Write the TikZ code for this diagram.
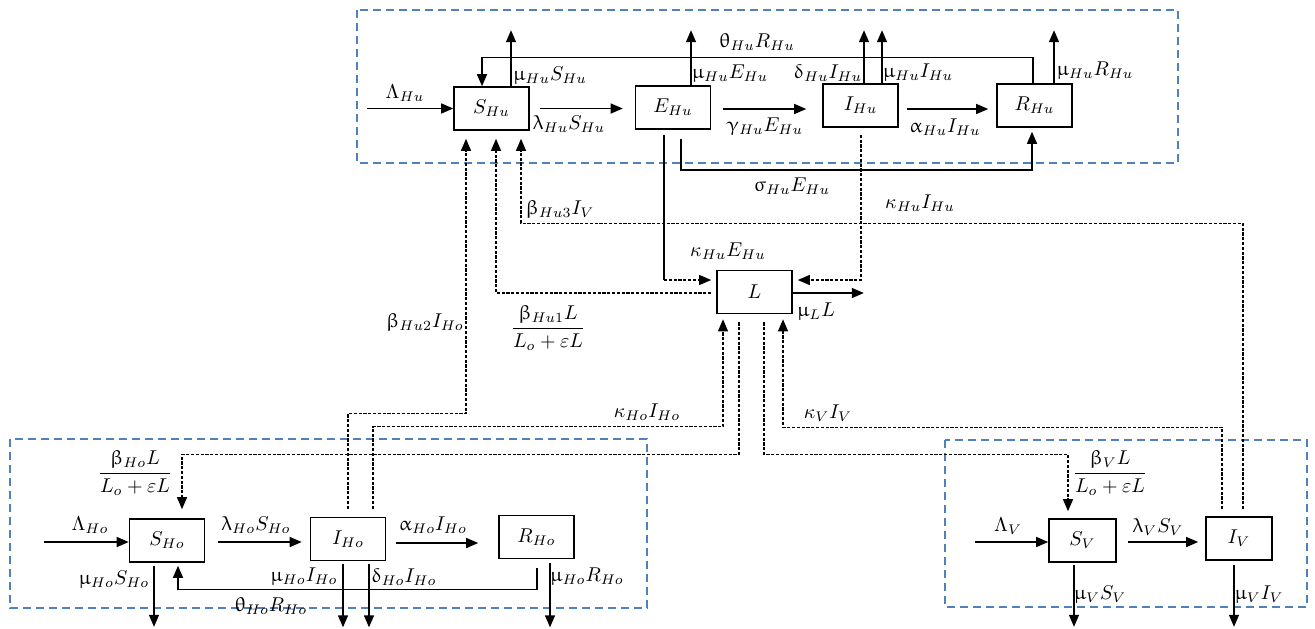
\documentclass[tikz,border=0pt]{standalone}
\usepackage{amsmath}
\usepackage{upgreek}
\usetikzlibrary{arrows.meta,calc}
\definecolor{grpblue}{RGB}{79,129,189}
\begin{document}
\begin{tikzpicture}[x=0.5pt,y=-0.5pt,
  box/.style={draw, line width=0.8pt, minimum width=37.5pt, minimum height=21.5pt, inner sep=0pt, font=\fontsize{10}{12}\selectfont},
  arr/.style={line width=0.7pt, -{Triangle[length=6pt,width=5pt]}},
  ln/.style={line width=0.7pt},
  dsh/.style={line width=0.55pt, dash pattern=on 1.6pt off 0.8pt},
  dsharr/.style={dsh, -{Triangle[length=6pt,width=5pt]}},
  grp/.style={draw=grpblue, line width=0.6pt, dash pattern=on 4pt off 2.5pt},
  lbl/.style={inner sep=0pt, font=\fontsize{10}{12}\selectfont}]
\useasboundingbox (0,0) rectangle (1315,628);
% group frames
\draw[grp] (357,10) rectangle (1178,163);
\draw[grp] (10,439) rectangle (647,608);
\draw[grp] (945,440) rectangle (1307,607);
% compartments
\node[box] (SHu) at (491.5,108.5) {$S_{Hu}$};
\node[box] (EHu) at (673,107.5) {$E_{Hu}$};
\node[box] (IHu) at (860.5,105.5) {$I_{Hu}$};
\node[box] (RHu) at (1034.5,105.5) {$R_{Hu}$};
\node[box] (L) at (754.5,292) {$L$};
\node[box] (SHo) at (167,540.5) {$S_{Ho}$};
\node[box] (IHo) at (348,539) {$I_{Ho}$};
\node[box] (RHo) at (536.5,537) {$R_{Ho}$};
\node[box, minimum width=33.5pt] (SV) at (1082.5,540.5) {$S_{V}$};
\node[box, minimum width=33pt] (IV) at (1239,538.5) {$I_{V}$};
% human top row
\coordinate (inHu) at (367,108.5);
\draw[arr] (inHu) -- (SHu.west);
\draw[arr] ($(SHu.east)+(10,0)$) -- ($(SHu.east -| EHu.west)+(-12,0)$);
\draw[arr] ($(EHu.east)+(12,1.5)$) -- ($(EHu.east -| IHu.west)+(-16,1.5)$);
\draw[arr] ($(IHu.east)+(8,3.5)$) -- ($(IHu.east -| RHu.west)+(-8,3.5)$);
\draw[arr] ($(SHu.north)+(19.5,0)$) -- ++(0,-56);
\draw[arr] ($(RHu.north)+(-1.5,0)$) -- ++(0,-26) -| ($(SHu.north)+(-9.5,0)$);
\draw[arr] ($(EHu.north)+(18,0)$) -- ++(0,-55);
\draw[arr] ($(IHu.north)+(3.5,0)$) -- ++(0,-53);
\draw[arr] ($(IHu.north)+(21.5,0)$) -- ++(0,-53);
\draw[arr] ($(RHu.north)+(19.5,0)$) -- ++(0,-53);
\draw[arr] ($(EHu.south)+(8,9)$) -- ++(0,31) -| ($(RHu.south)+(-2.5,4)$);
% into L from humans
\coordinate (kEa) at ($(EHu.south)+(-9,5)$);
\coordinate (kEb) at ($(L.west)+(-5,-12)$);
\draw[ln] (kEa) -- (kEa |- kEb);
\draw[dsharr] (kEa |- kEb) -- (kEb);
\coordinate (kIa) at ($(IHu.south)+(0.5,7)$);
\coordinate (kIb) at ($(L.east)+(5,-12)$);
\draw[dsharr] (kIa) |- (kIb);
\draw[arr] ($(L.east)+(0,1)$) -- ++(71,0);
% infection of S_Hu
\draw[dsharr] ($(L.west)+(-5,1)$) -| ($(SHu.south)+(4.5,8)$);
\draw[dsharr] ($(IHo.north)+(0,-8)$) -- ++(0,-95) -| ($(SHu.south)+(-25.5,8)$);
\draw[dsharr] ($(IV.north)+(4,-7)$) -- ++(0,-286) -| ($(SHu.south)+(29.5,8)$);
% L and hosts / vectors
\draw[dsharr] ($(IHo.north)+(25,-8)$) -- ++(0,-82) -| ($(L.south)+(-31.5,5)$);
\draw[dsharr] ($(L.south)+(-15.5,8)$) -- ++(0,132) -| ($(SHo.north)+(15,-9)$);
\draw[dsharr] ($(L.south)+(9.5,8)$) -- ++(0,132) -| ($(SV.north)+(-14.5,-7)$);
\draw[dsharr] ($(IV.north)+(-17,-7)$) -- ++(0,-82) -| ($(L.south)+(28.5,5)$);
% host row
\coordinate (inHo) at (44,542);
\draw[arr] (inHo) -- (inHo -| SHo.west);
\draw[arr] ($(SHo.east)+(13,1.5)$) -- ($(SHo.east -| IHo.west)+(-8,1.5)$);
\draw[arr] ($(IHo.east)+(10,4)$) -- ($(IHo.east -| RHo.west)+(-20,4)$);
\draw[arr] ($(SHo.south)+(-13,3)$) -- ++(0,61);
\draw[arr] ($(RHo.south)+(0.5,9)$) -- ++(0,21) -| ($(SHo.south)+(11,3)$);
\draw[arr] ($(IHo.south)+(-5,3)$) -- ++(0,63);
\draw[arr] ($(IHo.south)+(21,3)$) -- ++(0,63);
\draw[arr] ($(RHo.south)+(13.5,4)$) -- ++(0,64);
% vector row
\coordinate (inV) at (975,542);
\draw[arr] (inV) -- (inV -| SV.west);
\draw[arr] ($(SV.east)+(11,1.5)$) -- ($(SV.east -| IV.west)+(-7,1.5)$);
\draw[arr] ($(SV.south)+(-8.5,2)$) -- ++(0,62);
\draw[arr] ($(IV.south)+(-5,4)$) -- ++(0,62);
% labels
\node[lbl] (t1) at (405,93) {$\Lambda_{Hu}$};
\node[lbl] (t2) at (569,124) {$\uplambda_{Hu}S_{Hu}$};
\node[lbl] (t3) at (765,127) {$\upgamma_{Hu}E_{Hu}$};
\node[lbl] (t4) at (945,127) {$\upalpha_{Hu}I_{Hu}$};
\node[lbl] (t5) at (550,76) {$\upmu_{Hu}S_{Hu}$};
\node[lbl] (t6) at (757,42) {$\uptheta_{Hu}R_{Hu}$};
\node[lbl] (t7) at (730,74) {$\upmu_{Hu}E_{Hu}$};
\node[lbl] (t8) at (828,73) {$\updelta_{Hu}I_{Hu}$};
\node[lbl] (t9) at (918,73) {$\upmu_{Hu}I_{Hu}$};
\node[lbl] (t10) at (1095,71) {$\upmu_{Hu}R_{Hu}$};
\node[lbl] (t11) at (792,186) {$\upsigma_{Hu}E_{Hu}$};
\node[lbl] (t12) at (728,251) {$\kappa_{Hu}E_{Hu}$};
\node[lbl] (t13) at (920,203) {$\kappa_{Hu}I_{Hu}$};
\node[lbl] (t14) at (816,312) {$\upmu_{L}L$};
\node[lbl] (t15) at (548,328) {$\dfrac{\upbeta_{Hu1}L}{L_o+\varepsilon L}$};
\node[lbl] (t16) at (425,322) {$\upbeta_{Hu2}I_{Ho}$};
\node[lbl] (t17) at (560,209) {$\upbeta_{Hu3}I_{V}$};
\node[lbl] (t18) at (647,412) {$\kappa_{Ho}I_{Ho}$};
\node[lbl] (t19) at (135,473) {$\dfrac{\upbeta_{Ho}L}{L_o+\varepsilon L}$};
\node[lbl] (t20) at (1110,473) {$\dfrac{\upbeta_{V}L}{L_o+\varepsilon L}$};
\node[lbl] (t21) at (828,413) {$\kappa_{V}I_{V}$};
\node[lbl] (t22) at (90,525) {$\Lambda_{Ho}$};
\node[lbl] (t23) at (256,525) {$\uplambda_{Ho}S_{Ho}$};
\node[lbl] (t24) at (433,525) {$\upalpha_{Ho}I_{Ho}$};
\node[lbl] (t25) at (114,580) {$\upmu_{Ho}S_{Ho}$};
\node[lbl] (t26) at (271,606) {$\uptheta_{Ho}R_{Ho}$};
\node[lbl] (t27) at (304,577) {$\upmu_{Ho}I_{Ho}$};
\node[lbl] (t28) at (404,577) {$\updelta_{Ho}I_{Ho}$};
\node[lbl] (t29) at (587,577) {$\upmu_{Ho}R_{Ho}$};
\node[lbl] (t30) at (1008,526) {$\Lambda_{V}$};
\node[lbl] (t31) at (1158,527) {$\uplambda_{V}S_{V}$};
\node[lbl] (t32) at (1100,595) {$\upmu_{V}S_{V}$};
\node[lbl] (t33) at (1259,595) {$\upmu_{V}I_{V}$};
\end{tikzpicture}
\end{document}
